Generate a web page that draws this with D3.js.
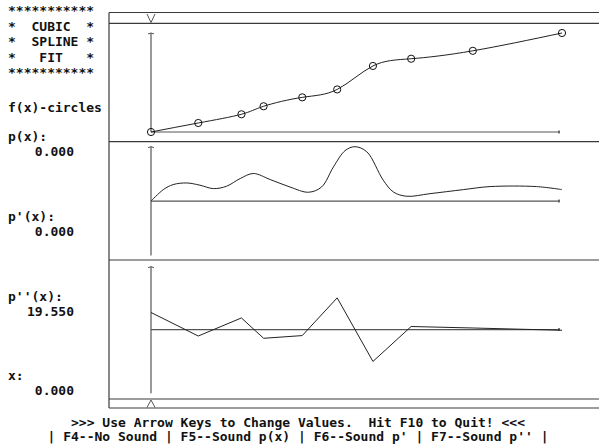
<!DOCTYPE html>
<html>
<head>
<meta charset="utf-8">
<script src="https://cdn.jsdelivr.net/npm/d3@7"></script>
<style>
  body { margin: 0; background: #fff; }
  svg { display: block; }
  text { font-family: "DejaVu Sans Mono", "Liberation Mono", monospace; font-size: 13px; font-weight: bold; fill: #111; white-space: pre; }
</style>
</head>
<body>
<svg id="chart" width="599" height="446"></svg>
<script>
// knots of the fit (x) and the f(x) values shown as circles
const knotX = [0, 1.15, 2.2, 2.74, 3.68, 4.53, 5.4, 6.33, 7.83, 10];
const fValues = [0, 0.091, 0.179, 0.26, 0.35, 0.43, 0.667, 0.74, 0.82, 1.0];

// p'(x)
const dX = [0, 0.3, 0.54, 0.87, 1.19, 1.52, 1.84, 2.17, 2.49, 2.9, 3.38, 3.83, 4.15, 4.44, 4.72, 4.96, 5.25, 5.65, 5.9, 6.22, 6.79, 7.6, 8.25, 9.38, 10];
const dValues = [0, 0.057, 0.082, 0.09, 0.079, 0.062, 0.074, 0.112, 0.137, 0.107, 0.07, 0.044, 0.07, 0.17, 0.25, 0.27, 0.245, 0.104, 0.045, 0.024, 0.037, 0.057, 0.072, 0.072, 0.057];

// p''(x) at the knots (piecewise linear)
const d2Values = [19.55, -7.4, 13.3, -10.0, -6.9, 36.3, -36.5, 3.5, 1.8, -0.8];

// current cursor
const cursorX = 0;
const readouts = [
  {label: "p(x):", value: "0.000"},
  {label: "p'(x):", value: "0.000"},
  {label: "p''(x):", value: "19.550"},
  {label: "x:", value: "0.000"}
];
const titleLines = ["***********", "*  CUBIC  *", "*  SPLINE *", "*   FIT   *", "***********"];
const footerLines = [">>> Use Arrow Keys to Change Values.  Hit F10 to Quit! <<<",
                     "| F4--No Sound | F5--Sound p(x) | F6--Sound p' | F7--Sound p'' |"];

const svg = d3.select("#chart");
const boxLeft = 109, boxRight = 599;
const lineColor = "#3a3a3a", axisColor = "#555", curveColor = "#222";

// scales
const x = d3.scaleLinear().domain([0, 10]).range([151, 562]);
const y1 = d3.scaleLinear().domain([0, 1]).range([132, 33]);
const y2 = d3.scaleLinear().domain([-0.27, 0.27]).range([255.5, 146.7]);
const y3 = d3.scaleLinear().domain([-73, 72]).range([393.3, 266.7]);

// frame: horizontal rules and left edge
const rules = [12.5, 23.3, 141.7, 260, 399, 408];
svg.selectAll(".rule").data(rules).enter().append("line")
  .attr("x1", boxLeft).attr("x2", boxRight)
  .attr("y1", d => d).attr("y2", d => d)
  .attr("stroke", lineColor).attr("stroke-width", 1.2);
svg.append("line")
  .attr("x1", boxLeft).attr("x2", boxLeft).attr("y1", 12.5).attr("y2", 408)
  .attr("stroke", lineColor).attr("stroke-width", 1.2);

// cursor markers in the top and bottom bars
const cx = x(cursorX);
svg.append("path").attr("d", `M${cx - 4},14 L${cx},22.5 L${cx + 4},14`)
  .attr("fill", "none").attr("stroke", axisColor);
svg.append("path").attr("d", `M${cx - 4},407.5 L${cx},400 L${cx + 4},407.5`)
  .attr("fill", "none").attr("stroke", axisColor);

// axes for each panel
function drawAxes(yScale, zero) {
  const [yb, yt] = yScale.range();
  const baseY = yScale(zero);
  svg.append("line").attr("x1", x(0)).attr("x2", x(0)).attr("y1", yt).attr("y2", yb)
    .attr("stroke", axisColor).attr("stroke-width", 1.2);
  svg.append("path").attr("d", `M${x(0) - 3},${yt + 1} Q${x(0)},${yt - 1} ${x(0) + 3},${yt + 1}`)
    .attr("fill", "none").attr("stroke", axisColor);
  svg.append("line").attr("x1", x(0)).attr("x2", x(10) - 2).attr("y1", baseY).attr("y2", baseY)
    .attr("stroke", axisColor).attr("stroke-width", 1.2);
  svg.append("line").attr("x1", x(10) - 3).attr("x2", x(10) - 3).attr("y1", baseY - 1.5).attr("y2", baseY + 1.5)
    .attr("stroke", axisColor).attr("stroke-width", 1.5);
}
drawAxes(y1, 0);
drawAxes(y2, 0);
drawAxes(y3, 0);

// p(x): spline through the knots
const fData = knotX.map((k, i) => [k, fValues[i]]);
svg.append("path").datum(fData)
  .attr("fill", "none").attr("stroke", curveColor).attr("stroke-width", 1)
  .attr("d", d3.line().x(d => x(d[0])).y(d => y1(d[1])).curve(d3.curveNatural));
svg.selectAll(".knot").data(fData).enter().append("circle")
  .attr("cx", d => x(d[0])).attr("cy", d => y1(d[1])).attr("r", 3.6)
  .attr("fill", "none").attr("stroke", "#111").attr("stroke-width", 1);

// p'(x)
const dData = dX.map((k, i) => [k, dValues[i]]);
svg.append("path").datum(dData)
  .attr("fill", "none").attr("stroke", curveColor).attr("stroke-width", 1)
  .attr("d", d3.line().x(d => x(d[0])).y(d => y2(d[1])).curve(d3.curveCatmullRom));

// p''(x)
const d2Data = knotX.map((k, i) => [k, d2Values[i]]);
svg.append("path").datum(d2Data)
  .attr("fill", "none").attr("stroke", curveColor).attr("stroke-width", 1)
  .attr("d", d3.line().x(d => x(d[0])).y(d => y3(d[1])));

// left side text
svg.selectAll(".title").data(titleLines).enter().append("text")
  .attr("x", 8).attr("y", (d, i) => 15 + i * 15.5).text(d => d);
svg.append("text").attr("x", 8).attr("y", 111.5).text("f(x)-circles");

const readY = [141, 220.5, 301, 379.5];
readouts.forEach((r, i) => {
  svg.append("text").attr("x", 8).attr("y", readY[i]).text(r.label);
  svg.append("text").attr("x", 74).attr("y", readY[i] + 15).attr("text-anchor", "end").text(r.value);
});

// footer
svg.selectAll(".footer").data(footerLines).enter().append("text")
  .attr("x", 298).attr("y", (d, i) => 427 + i * 14).attr("text-anchor", "middle").text(d => d);
</script>
</body>
</html>
